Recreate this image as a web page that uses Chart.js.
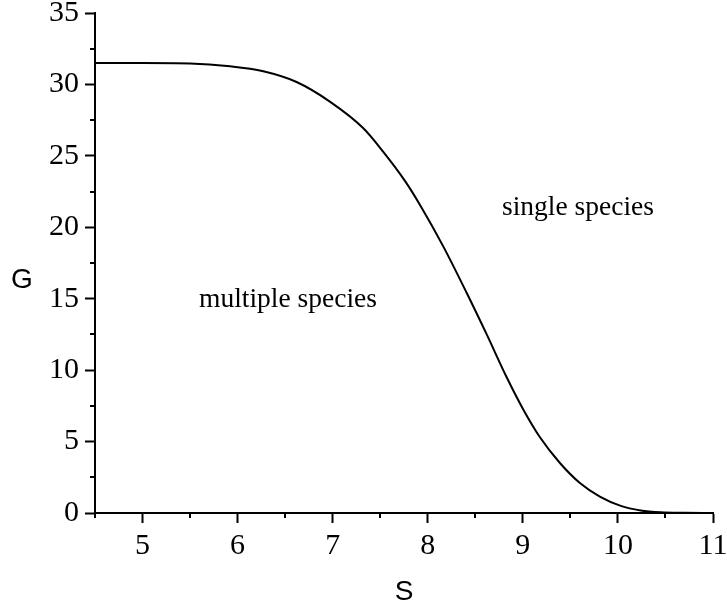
<!DOCTYPE html>
<html>
<head>
<meta charset="utf-8">
<script src="https://cdn.jsdelivr.net/npm/chart.js@4.4.1/dist/chart.umd.min.js"></script>
<style>
  body { margin: 0; background: #fff; }
</style>
</head>
<body>
<canvas id="phase" width="727" height="609"></canvas>
<script>
// boundary curve G(S)
const sValues = [4.5, 5.0, 5.5, 5.92, 6.27, 6.62, 6.97, 7.32, 7.53, 7.76, 7.92, 8.16, 8.41, 8.62, 8.83, 9.0, 9.18, 9.39, 9.6, 9.81, 10.03, 10.24, 10.45, 10.7, 11.0];
const gValues = [31.5, 31.5, 31.47, 31.27, 30.92, 30.17, 28.8, 26.95, 25.3, 23.25, 21.55, 18.7, 15.4, 12.5, 9.5, 7.3, 5.3, 3.5, 2.1, 1.15, 0.5, 0.18, 0.05, 0.01, 0.0];

const xTicks = [5, 6, 7, 8, 9, 10, 11];
const yTicks = [0, 5, 10, 15, 20, 25, 30, 35];

const regionLabels = [
  { text: 'single species', s: 9.58, g: 21.4 },
  { text: 'multiple species', s: 6.53, g: 14.9 }
];

const serif = '"Liberation Serif", "Times New Roman", serif';
const sans = '"Liberation Sans", Arial, sans-serif';

const points = sValues.map((s, i) => ({ x: s, y: gValues[i] }));

const isMajor = (v, step) => Math.abs(v / step - Math.round(v / step)) < 1e-6;

// short minor ticks + free text
const extras = {
  id: 'extras',
  afterDraw(chart) {
    const { ctx, scales: { x, y }, chartArea } = chart;
    ctx.save();
    ctx.strokeStyle = '#000';
    ctx.lineWidth = 2;
    ctx.beginPath();
    x.ticks.forEach(t => {
      if (!isMajor(t.value, 1)) {
        const px = Math.round(x.getPixelForValue(t.value));
        ctx.moveTo(px, chartArea.bottom);
        ctx.lineTo(px, chartArea.bottom + 5);
      }
    });
    y.ticks.forEach(t => {
      if (!isMajor(t.value, 5)) {
        const py = Math.round(y.getPixelForValue(t.value));
        ctx.moveTo(chartArea.left, py);
        ctx.lineTo(chartArea.left - 5, py);
      }
    });
    ctx.stroke();

    ctx.fillStyle = '#000';
    ctx.textAlign = 'center';
    ctx.textBaseline = 'middle';
    ctx.font = '27.5px ' + serif;
    regionLabels.forEach(l => {
      ctx.fillText(l.text, x.getPixelForValue(l.s), y.getPixelForValue(l.g));
    });
    ctx.font = '28px ' + sans;
    ctx.fillText('G', 22, 280);
    ctx.fillText('S', 404, 592);
    ctx.restore();
  }
};

new Chart(document.getElementById('phase'), {
  type: 'line',
  data: {
    datasets: [{
      data: points,
      borderColor: '#000',
      borderWidth: 2,
      pointRadius: 0,
      cubicInterpolationMode: 'monotone',
      fill: false
    }]
  },
  options: {
    responsive: false,
    animation: false,
    layout: { padding: { top: 13, right: 14, left: 0, bottom: 0 } },
    plugins: { legend: { display: false }, tooltip: { enabled: false } },
    scales: {
      x: {
        type: 'linear',
        min: 4.5,
        max: 11,
        border: { display: true, color: '#000', width: 2 },
        grid: {
          drawOnChartArea: false,
          tickLength: 10,
          tickWidth: 2,
          tickColor: c => isMajor(c.tick.value, 1) ? '#000' : 'rgba(0,0,0,0)'
        },
        ticks: {
          stepSize: 0.5,
          autoSkip: false,
          maxRotation: 0,
          padding: 5,
          color: '#000',
          font: { family: serif, size: 30 },
          callback: v => xTicks.includes(v) ? String(v) : ''
        },
        afterFit: s => { s.height = 96; s.paddingLeft = 0; s.paddingRight = 0; }
      },
      y: {
        type: 'linear',
        min: 0,
        max: 35,
        border: { display: true, color: '#000', width: 2 },
        grid: {
          drawOnChartArea: false,
          tickLength: 10,
          tickWidth: 2,
          tickColor: c => isMajor(c.tick.value, 5) ? '#000' : 'rgba(0,0,0,0)'
        },
        ticks: {
          stepSize: 2.5,
          autoSkip: false,
          padding: 6,
          color: '#000',
          font: { family: serif, size: 30 },
          callback: v => yTicks.includes(v) ? String(v) : ''
        },
        afterFit: s => { s.width = 95; s.paddingTop = 0; s.paddingBottom = 0; }
      }
    }
  },
  plugins: [extras]
});
</script>
</body>
</html>
